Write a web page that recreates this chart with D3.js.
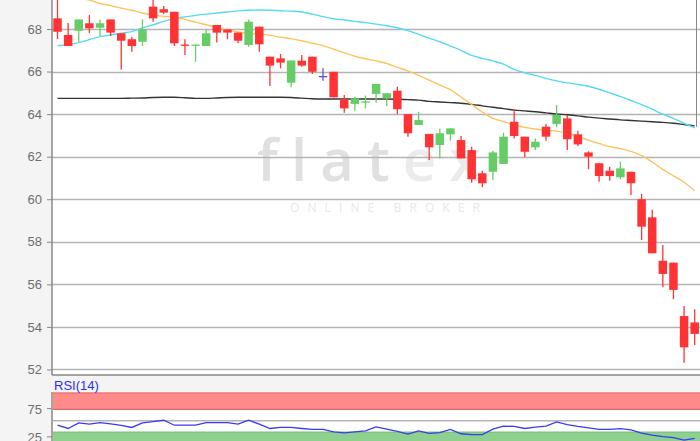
<!DOCTYPE html>
<html>
<head>
<meta charset="utf-8">
<script src="https://cdnjs.cloudflare.com/ajax/libs/d3/7.8.5/d3.min.js"></script>
<style>
  body { margin: 0; background: #f4f4f4; }
  svg { display: block; font-family: Arial, "Liberation Sans", sans-serif; }
</style>
</head>
<body>
<svg width="700" height="441"></svg>
<script>
// candles, one per trading day
const opens  = [68.5,67.72,67.92,68.27,68.06,68.45,67.8,67.52,67.4,69.05,
                68.93,68.81,67.27,67.23,67.2,68.19,67.98,67.83,67.25,68.11,
                66.7,66.62,65.48,66.51,66.7,65.79,65.99,64.7,64.48,64.56,
                64.95,64.74,65.1,64.0,63.49,63.07,62.55,63.05,62.78,62.31,
                61.22,61.29,61.66,63.64,62.94,62.44,63.41,63.54,63.8,63.05,
                62.2,61.69,61.34,61.03,61.29,60.0,59.15,57.11,57.02,54.51,54.21];
const highs  = [69.6,68.28,68.45,68.66,68.45,68.45,67.8,67.64,68.45,69.6,
                69.08,68.81,67.52,67.27,67.98,68.19,67.98,67.83,68.45,68.11,
                66.7,66.83,66.52,66.78,66.7,66.15,65.99,64.9,64.82,64.87,
                65.42,64.98,65.29,64.0,64.11,63.07,63.33,63.33,62.97,62.47,
                61.34,62.28,63.13,64.23,62.94,62.86,63.54,64.43,63.96,63.22,
                62.25,61.69,61.53,61.77,61.29,60.25,59.5,57.85,57.02,54.98,54.83];
const lows   = [67.53,67.2,67.4,67.8,67.67,67.67,66.1,66.93,67.2,68.34,
                68.7,67.2,66.78,66.46,67.2,67.36,67.52,67.33,67.17,66.93,
                65.32,66.15,65.26,66.23,65.89,65.57,64.79,64.07,64.16,64.27,
                64.54,64.38,64.0,62.94,63.49,61.84,61.92,62.75,61.92,60.78,
                60.56,60.9,61.66,62.86,61.97,62.31,62.75,63.38,62.31,62.5,
                61.41,60.82,60.87,60.95,60.2,58.08,57.46,55.86,55.3,52.32,53.15];
const closes = [67.87,67.2,68.45,68.03,68.27,67.83,67.45,67.2,67.98,68.5,
                68.77,67.33,67.23,67.27,67.8,67.83,67.83,67.45,68.34,67.28,
                66.28,66.42,66.52,66.28,65.99,65.79,64.79,64.27,64.74,64.6,
                65.42,64.98,64.23,63.1,63.72,62.44,63.1,63.33,61.92,60.94,
                60.75,62.2,62.94,62.97,62.23,62.7,62.94,63.96,62.82,62.58,
                62.0,61.09,61.09,61.45,60.75,58.71,57.46,56.49,55.74,53.04,53.67];

// moving averages
const smaLong  = [64.74,64.74,64.74,64.74,64.74,64.74,64.74,64.75,64.76,64.78,
                  64.79,64.79,64.77,64.74,64.74,64.76,64.78,64.79,64.79,64.79,
                  64.79,64.79,64.78,64.75,64.72,64.71,64.71,64.71,64.71,64.71,
                  64.71,64.71,64.7,64.68,64.66,64.6,64.57,64.54,64.51,64.46,
                  64.39,64.32,64.26,64.19,64.15,64.11,64.06,64.01,63.97,63.92,
                  63.86,63.81,63.77,63.73,63.7,63.67,63.64,63.61,63.57,63.51,63.45];
const smaMid   = [67.22,67.26,67.36,67.5,67.64,67.72,67.8,67.88,68.05,68.2,
                  68.36,68.5,68.57,68.64,68.7,68.75,68.8,68.85,68.88,68.89,
                  68.88,68.86,68.84,68.8,68.7,68.58,68.48,68.42,68.36,68.3,
                  68.23,68.15,68.06,67.92,67.75,67.57,67.4,67.2,67.0,66.76,
                  66.62,66.5,66.35,66.1,65.94,65.82,65.68,65.56,65.47,65.4,
                  65.31,65.17,65.0,64.83,64.64,64.45,64.23,64.0,63.8,63.57,63.35];
const smaShort = [69.75,69.6,69.48,69.36,69.2,69.1,68.98,68.88,68.75,68.65,
                  68.6,68.55,68.45,68.32,68.2,68.07,67.96,67.86,67.8,67.76,
                  67.7,67.62,67.55,67.45,67.33,67.22,67.05,66.88,66.72,66.6,
                  66.5,66.38,66.2,66.03,65.82,65.6,65.37,65.15,64.8,64.45,
                  64.1,63.8,63.65,63.5,63.38,63.3,63.24,63.2,63.1,62.95,
                  62.78,62.62,62.47,62.38,62.25,62.05,61.75,61.4,61.1,60.8,60.4];

const rsi = [42.1,36.3,46.1,43.9,46.8,44.5,42,38.1,46.1,48.5,
             50.9,42.1,42.1,42.1,46.8,46.8,46.8,43.9,50.9,43.9,
             36.3,38.1,38.1,36.3,34.6,34.6,30.4,28.6,30.4,32.1,
             39.1,35,31,26.3,32.1,27.5,29,34.6,27,25.5,
             25.5,35,40.5,40,36.3,38.6,40.4,47.9,43,40,
             37.5,34.6,34.6,36,34,28,24.5,22,20,15.8,18.8];

const priceTicks = [52,54,56,58,60,62,64,66,68];
const rsiTicks = [25,75];
const rsiLabel = "RSI(14)";

const svg = d3.select("svg");
const left = 52, right = 700;
const priceBottom = 375, rsiTop = 392;

const x = d3.scaleBand()
    .domain(d3.range(opens.length))
    .range([52.2, 700])
    .paddingInner(0.2)
    .paddingOuter(0.1);
const cx = i => x(i) + x.bandwidth() / 2;

const y = d3.scaleLinear().domain([51.74, 69.363]).range([priceBottom, 0]);
const yR = d3.scaleLinear().domain([0, 100]).range([449, rsiTop + 0.5]);

// backgrounds
svg.append("rect").attr("x", 0).attr("y", 0).attr("width", 700).attr("height", 441).attr("fill", "#f4f4f4");
svg.append("rect").attr("x", left).attr("y", 0).attr("width", right - left).attr("height", priceBottom).attr("fill", "#fff");
svg.append("rect").attr("x", left).attr("y", rsiTop).attr("width", right - left).attr("height", 60).attr("fill", "#fff");

// watermark
const wm = svg.append("g").attr("class", "watermark");
const wmText = wm.append("text")
    .attr("x", 257).attr("y", 181)
    .attr("font-family", "'Open Sans', Arial, sans-serif")
    .attr("font-size", 58)
    .attr("font-weight", 600)
    .attr("letter-spacing", 13);
wmText.append("tspan").attr("fill", "#e0e0e0").text("flat");
wmText.append("tspan").attr("fill", "#ebebeb").text("ex");
wm.append("text")
    .attr("x", 290).attr("y", 212)
    .attr("font-family", "'Open Sans', Arial, sans-serif")
    .attr("font-size", 12)
    .attr("fill", "#e8e8e8")
    .attr("textLength", 190)
    .attr("lengthAdjust", "spacing")
    .text("ONLINE BROKER");

// grid
svg.append("g").selectAll("line")
    .data(priceTicks)
    .join("line")
    .attr("x1", left).attr("x2", right)
    .attr("y1", d => Math.round(y(d)) + 0.5).attr("y2", d => Math.round(y(d)) + 0.5)
    .attr("stroke", "#b4b4b4").attr("stroke-width", 1.5);

// price axis
const yAxis = svg.append("g")
    .attr("transform", `translate(${left},0)`)
    .call(d3.axisLeft(y).tickValues(priceTicks).tickSize(5).tickPadding(5).tickFormat(d3.format("d")));
yAxis.select(".domain").remove();
yAxis.selectAll("line").attr("stroke", "#888");
yAxis.selectAll("text").attr("fill", "#6e6e6e").attr("font-size", 13).attr("font-family", "Arial, 'Liberation Sans', sans-serif");

svg.append("line").attr("x1", left).attr("x2", left).attr("y1", 0).attr("y2", priceBottom)
    .attr("stroke", "#888").attr("stroke-width", 1.5);
svg.append("line").attr("x1", left).attr("x2", right).attr("y1", priceBottom).attr("y2", priceBottom)
    .attr("stroke", "#888").attr("stroke-width", 1.5);
svg.append("line").attr("x1", 696.5).attr("x2", 696.5).attr("y1", 0).attr("y2", y(63.4))
    .attr("stroke", "#888").attr("stroke-width", 1);

// plot clip
svg.append("clipPath").attr("id", "clipPrice")
  .append("rect").attr("x", left + 1).attr("y", 0).attr("width", right - left).attr("height", priceBottom - 1);
const plot = svg.append("g").attr("clip-path", "url(#clipPrice)");

// moving averages
const idx = d3.range(opens.length);
const lineOf = arr => d3.line().x(i => cx(i)).y(i => y(arr[i])).curve(d3.curveMonotoneX)(idx);
plot.append("path").attr("d", lineOf(smaLong)).attr("fill", "none").attr("stroke", "#333").attr("stroke-width", 1.4);
plot.append("path").attr("d", lineOf(smaMid)).attr("fill", "none").attr("stroke", "#55daf4").attr("stroke-width", 1.4);
plot.append("path").attr("d", lineOf(smaShort)).attr("fill", "none").attr("stroke", "#ffc35a").attr("stroke-width", 1.4);

// candles
const colorOf = i => closes[i] > opens[i] ? "#66cc66" : (closes[i] < opens[i] ? "#ff3333" : "#5a4fd0");
const candles = plot.append("g").selectAll("g").data(idx).join("g");
candles.append("line")
    .attr("x1", i => cx(i)).attr("x2", i => cx(i))
    .attr("y1", i => y(highs[i])).attr("y2", i => y(lows[i]))
    .attr("stroke", colorOf).attr("stroke-width", 1.3);
candles.append("rect")
    .attr("x", i => x(i))
    .attr("width", x.bandwidth())
    .attr("y", i => y(Math.max(opens[i], closes[i])))
    .attr("height", i => Math.max(1.3, Math.abs(y(opens[i]) - y(closes[i]))))
    .attr("fill", colorOf);

// RSI panel
svg.append("clipPath").attr("id", "clipRsi")
  .append("rect").attr("x", left + 1).attr("y", rsiTop).attr("width", right - left).attr("height", 60);
const rp = svg.append("g").attr("clip-path", "url(#clipRsi)");
rp.append("rect").attr("x", left).attr("width", right - left)
    .attr("y", yR(100)).attr("height", yR(70) - yR(100))
    .attr("fill", "#ff8a8a");
rp.append("line").attr("x1", left).attr("x2", right).attr("y1", yR(70)).attr("y2", yR(70))
    .attr("stroke", "#dd6a6a").attr("stroke-width", 1.3);
rp.append("line").attr("x1", left).attr("x2", right).attr("y1", yR(100) + 0.5).attr("y2", yR(100) + 0.5)
    .attr("stroke", "#dd6a6a").attr("stroke-width", 1);
rp.append("line").attr("x1", left).attr("x2", right).attr("y1", yR(50)).attr("y2", yR(50))
    .attr("stroke", "#b4b4b4").attr("stroke-width", 1.5);
rp.append("rect").attr("x", left).attr("width", right - left)
    .attr("y", yR(30)).attr("height", yR(0) - yR(30))
    .attr("fill", "#8ed08e");
rp.append("line").attr("x1", left).attr("x2", right).attr("y1", yR(30)).attr("y2", yR(30))
    .attr("stroke", "#6cbf6c").attr("stroke-width", 1);
rp.append("path")
    .attr("d", d3.line().x(i => cx(i)).y(i => yR(rsi[i]))(idx))
    .attr("fill", "none").attr("stroke", "#3a3af5").attr("stroke-width", 1.3);

const rAxis = svg.append("g")
    .attr("transform", `translate(${left},0)`)
    .call(d3.axisLeft(yR).tickValues(rsiTicks).tickSize(5).tickPadding(5));
rAxis.select(".domain").remove();
rAxis.selectAll("line").attr("stroke", "#888").attr("transform", "translate(0,1.5)");
rAxis.selectAll("text").attr("fill", "#6e6e6e").attr("font-size", 13).attr("dy", "0.5em");
svg.append("line").attr("x1", left).attr("x2", left).attr("y1", rsiTop).attr("y2", 441)
    .attr("stroke", "#888").attr("stroke-width", 1.5);

svg.append("text")
    .attr("x", 54).attr("y", 389.5)
    .attr("fill", "#2b2bff")
    .attr("font-size", 13)
    .text(rsiLabel);
</script>
</body>
</html>
